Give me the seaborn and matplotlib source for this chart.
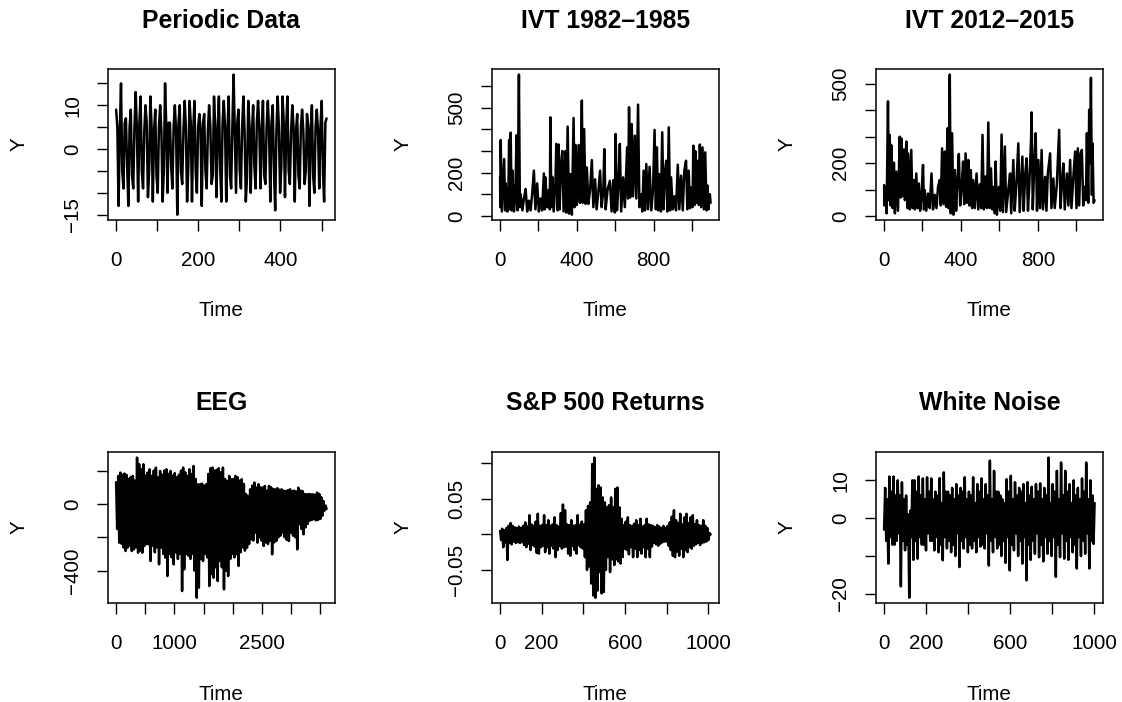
import numpy as np
import matplotlib
matplotlib.use("Agg")
import matplotlib.pyplot as plt
import seaborn as sns

# ---------------- data ----------------
periodic_n = 512
periodic_y = [
    9, 5, -13, 4, 15, -5, -9, 6, 7, -4, -13, 5, 9, -6, -9, 5, 13, 4, -12, 6,
    12, -5, -9, 4, 10, 6, -11, -5, 12, 5, -12, 4, 9, -6, -10, 5, 10, 4, -12, -5,
    15, 5, -10, 6, 6, -4, -9, 5, 10, 4, -15, 6, 10, -5, -8, 4, 11, 5, -12, -4,
    11, 6, -12, 4, 11, -5, -10, 5, 8, 4, -13, 6, 8, -5, -9, 4, 10, 5, -8, -6,
    12, 5, -11, 4, 12, -4, -12, 6, 11, 5, -12, 4, 12, -6, -9, 5, 17, 4, -10, 6,
    9, -5, -9, 5, 12, 4, -12, -6, 11, 5, -10, 4, 10, -4, -9, 6, 11, 5, -9, 4,
    11, -6, -8, 5, 11, 4, -12, 6, 10, -5, -14, 4, 12, 5, -10, -4, 12, 6, -11, 5,
    12, -5, -8, 4, 10, 5, -12, 4, 8, -6, -9, 5, 9, 4, -8, -5, 8, 5, -13, 4,
    10, -6, -10, 5, 9, 4, -9, 5, 11, -5, -12, 6, 7,
]

ivt82_t = [
    0, 1, 3, 9, 14, 21, 26, 29, 38, 43, 47, 52, 55, 60, 64, 72, 79, 86, 91, 98,
    103, 107, 116, 124, 133, 141, 150, 159, 167, 176, 184, 193, 202, 210, 219, 228, 233, 236, 245, 253,
    259, 262, 267, 272, 279, 288, 293, 300, 305, 310, 317, 324, 331, 340, 345, 352, 359, 366, 374, 383,
    388, 393, 400, 409, 416, 421, 426, 431, 438, 445, 452, 460, 469, 478, 486, 495, 503, 512, 521, 529,
    538, 543, 550, 560, 572, 581, 590, 598, 602, 609, 617, 624, 631, 641, 650, 662, 667, 672, 678, 686,
    693, 702, 710, 719, 726, 736, 741, 748, 755, 762, 771, 779, 788, 797, 805, 812, 817, 824, 831, 838,
    845, 852, 859, 866, 872, 879, 886, 891, 900, 909, 917, 926, 934, 943, 952, 960, 969, 976, 983, 990,
    995, 1003, 1007, 1014, 1017, 1024, 1029, 1036, 1041, 1048, 1055, 1062, 1069, 1076, 1081, 1086, 1093, 1097,
]
ivt82_y = [
    178, 40, 351, 20, 120, 263, 25, 150, 20, 100, 351, 30, 385, 25, 209, 20, 90, 373, 25, 654,
    40, 100, 25, 80, 124, 20, 70, 25, 100, 209, 30, 150, 20, 80, 25, 196, 30, 178, 40, 120,
    30, 456, 40, 180, 20, 150, 333, 25, 330, 30, 230, 300, 20, 300, 15, 413, 10, 193, 5, 453,
    40, 328, 50, 328, 60, 250, 534, 60, 402, 55, 224, 55, 120, 258, 40, 169, 30, 110, 209, 40,
    120, 309, 30, 120, 162, 20, 165, 15, 379, 25, 150, 333, 20, 178, 40, 317, 80, 503, 85, 425,
    90, 371, 80, 515, 40, 100, 20, 209, 25, 240, 30, 227, 25, 120, 398, 30, 317, 25, 193, 20,
    387, 30, 200, 255, 20, 410, 25, 178, 30, 90, 25, 237, 30, 186, 25, 209, 255, 30, 209, 35,
    130, 40, 325, 50, 300, 60, 255, 50, 330, 40, 317, 30, 294, 25, 140, 30, 100, 60,
]

ivt12_t = [
    1, 3, 9, 14, 21, 26, 30, 35, 38, 45, 52, 57, 64, 73, 82, 87, 90, 97, 104, 109,
    116, 122, 125, 134, 142, 148, 156, 161, 168, 175, 181, 188, 194, 203, 208, 212, 220, 229, 238, 247,
    255, 264, 273, 281, 290, 295, 302, 309, 316, 323, 330, 335, 342, 347, 354, 361, 368, 375, 382, 389,
    396, 403, 411, 417, 424, 431, 438, 444, 451, 458, 464, 472, 481, 490, 498, 505, 512, 519, 528, 535,
    542, 549, 556, 563, 569, 576, 580, 587, 597, 604, 611, 618, 628, 635, 646, 655, 661, 672, 679, 688,
    698, 705, 719, 726, 733, 741, 748, 755, 764, 767, 773, 781, 788, 795, 802, 811, 819, 826, 837, 844,
    851, 863, 870, 880, 887, 898, 910, 917, 924, 932, 939, 950, 958, 967, 974, 984, 993, 1000, 1007, 1014,
    1021, 1028, 1035, 1042, 1049, 1054, 1061, 1066, 1071, 1075, 1080, 1083, 1089, 1094,
]
ivt12_y = [
    117, 40, 110, 10, 434, 60, 307, 40, 269, 30, 202, 10, 168, 20, 300, 70, 294, 75, 252, 60,
    282, 30, 237, 25, 250, 30, 136, 25, 161, 30, 123, 20, 60, 193, 25, 98, 20, 85, 30, 161,
    25, 80, 30, 110, 136, 40, 256, 45, 244, 35, 332, 30, 535, 10, 313, 5, 174, 20, 136, 235,
    40, 100, 206, 45, 237, 50, 212, 40, 174, 30, 136, 30, 161, 25, 120, 30, 307, 25, 150, 30,
    354, 30, 180, 25, 110, 10, 206, 5, 110, 20, 308, 15, 263, 15, 100, 161, 10, 212, 20, 120,
    275, 15, 225, 20, 150, 218, 20, 120, 288, 392, 25, 200, 313, 20, 212, 30, 250, 25, 148, 20,
    160, 237, 30, 142, 30, 120, 326, 30, 120, 199, 25, 161, 40, 212, 30, 150, 244, 30, 256, 40,
    237, 250, 40, 110, 60, 313, 50, 402, 200, 523, 80, 275, 50, 60,
]

eeg_n = 3605
eeg_hi = [
    130, 168, 188, 175, 182, 174, 150, 162, 168, 140,
    278, 238, 208, 238, 170, 188, 208, 168, 200, 218,
    160, 198, 175, 200, 208, 180, 198, 170, 185, 160,
    175, 200, 218, 190, 168, 208, 180, 228, 150, 118,
    118, 122, 110, 118, 180, 214, 218, 200, 205, 214,
    190, 218, 150, 138, 168, 148, 150, 168, 160, 140,
    148, 120, 60, 48, 88, 110, 128, 98, 118, 100,
    98, 108, 80, 108, 100, 90, 88, 95, 85, 88,
    80, 78, 82, 88, 78, 80, 75, 98, 80, 78,
    60, 58, 60, 58, 58, 56, 68, 60, 40, 18, -10,
]
eeg_lo = [
    -150, -232, -238, -260, -282, -262, -250, -282, -272, -260,
    -292, -280, -292, -252, -240, -242, -342, -250, -290, -260,
    -362, -262, -300, -322, -432, -300, -320, -362, -290, -330,
    -300, -522, -392, -300, -310, -330, -300, -400, -562, -502,
    -330, -342, -300, -320, -492, -420, -442, -380, -462, -342,
    -380, -512, -400, -432, -330, -300, -320, -300, -372, -290,
    -260, -280, -262, -240, -212, -220, -172, -232, -200, -220,
    -252, -230, -240, -220, -302, -230, -222, -200, -190, -172,
    -200, -215, -222, -172, -190, -200, -272, -122, -150, -182,
    -140, -120, -100, -95, -92, -98, -95, -90, -70, -40, -30,
]

sp_n = 1011
sp_hi = [
    0.005, 0.008, 0.006, 0.009, 0.012, 0.016, 0.012, 0.010, 0.009, 0.011,
    0.009, 0.012, 0.017, 0.011, 0.027, 0.014, 0.012, 0.018, 0.029, 0.012,
    0.013, 0.027, 0.013, 0.020, 0.012, 0.014, 0.024, 0.013, 0.011, 0.030,
    0.042, 0.034, 0.014, 0.013, 0.020, 0.012, 0.013, 0.027, 0.013, 0.018,
    0.014, 0.034, 0.040, 0.045, 0.099, 0.108, 0.064, 0.069, 0.066, 0.052,
    0.045, 0.038, 0.041, 0.052, 0.038, 0.064, 0.066, 0.038, 0.022, 0.013,
    0.018, 0.024, 0.013, 0.012, 0.015, 0.020, 0.013, 0.022, 0.011, 0.013,
    0.022, 0.014, 0.013, 0.012, 0.010, 0.013, 0.011, 0.009, 0.012, 0.009,
    0.012, 0.017, 0.025, 0.034, 0.020, 0.016, 0.029, 0.014, 0.024, 0.029,
    0.016, 0.024, 0.027, 0.014, 0.020, 0.013, 0.012, 0.020, 0.012, 0.009, 0.002,
]
sp_lo = [
    -0.008, -0.018, -0.011, -0.036, -0.012, -0.014, -0.010, -0.012, -0.011, -0.012,
    -0.011, -0.015, -0.018, -0.013, -0.022, -0.015, -0.017, -0.026, -0.027, -0.018,
    -0.016, -0.025, -0.018, -0.027, -0.016, -0.020, -0.032, -0.022, -0.016, -0.020,
    -0.018, -0.017, -0.027, -0.030, -0.016, -0.022, -0.027, -0.015, -0.018, -0.020,
    -0.032, -0.050, -0.045, -0.069, -0.086, -0.089, -0.079, -0.053, -0.083, -0.081,
    -0.050, -0.032, -0.053, -0.035, -0.043, -0.035, -0.038, -0.041, -0.032, -0.020,
    -0.022, -0.028, -0.018, -0.032, -0.020, -0.032, -0.022, -0.027, -0.018, -0.032,
    -0.020, -0.032, -0.017, -0.012, -0.014, -0.016, -0.013, -0.011, -0.010, -0.010,
    -0.016, -0.022, -0.030, -0.032, -0.024, -0.030, -0.020, -0.032, -0.022, -0.025,
    -0.018, -0.020, -0.016, -0.014, -0.012, -0.015, -0.012, -0.011, -0.010, -0.008, 0.000,
]

noise_n = 1002
noise_y = [
    -3,
    8, -6, 5, -12, 11, -5, 7, -7, 11, -7, 6, -6, 10, -4, 6, -18, 9.5, -6, 5, -8.5,
    6, -7, 1, -21, 2, -5, 10, -11, 10, -6, 7, -10.7, 11, -5, 6, -7, 10.5, -7, 5, -8.5,
    10.8, -4, 7, -6, 10.5, -6, 5, -8.5, 7, -5, 6, -9, 10.6, -7, 4, -11.1, 12.1, -5, 7, -8,
    7, -6, 6, -9, 8, -7, 5, -10, 9, -4, 6, -12.9, 8, -6, 7, -8, 10.8, -5, 5, -9,
    7, -7, 6, -8, 10.8, -6, 4, -9, 9, -5, 7, -7.5, 10.5, -7, 5, -8, 9, -4, 6, -12.5,
    15.2, -6, 5, -9, 12.5, -5, 7, -8, 7, -7, 6, -10, 5, -6, 4, -11.8, 10.3, -5, 7, -13.8,
    11.2, -7, 5, -8.5, 9.5, -4, 6, -10, 8, -6, 7, -12, 9, -5, 4, -16.4, 9.5, -7, 6, -11,
    8.3, -6, 5, -9.4, 9, -4, 7, -10.3, 9.2, -7, 5, -11.4, 8, -5, 6, -9.4, 16, -6, 4, -10,
    9, -5, 7, -15.5, 12.5, -7, 5, -10.3, 14.7, -4, 6, -10.7, 12.5, -6, 7, -11, 9, -5, 4, -9,
    10, -7, 6, -13.3, 8, -5, 5, -10, 10.5, -6, 7, -9.4, 14.7, -4, 5, -13.3, 10, -6, 6, -6.8,
    4,
]

M = "\u2212"
titles = ["Periodic Data", "IVT 1982\u20131985", "IVT 2012\u20132015",
          "EEG", "S&P 500 Returns", "White Noise"]

# ---------------- style ----------------
sns.set_theme(style="ticks")
plt.rcParams["font.family"] = ["Liberation Sans", "DejaVu Sans"]

W, H, DPI = 1122, 702, 100
fig = plt.figure(figsize=(W / DPI, H / DPI), dpi=DPI)

col_left = [107.7, 491.7, 875.7]
row_top = [69.0, 452.0]
box_w, box_h = 227.3, 151.3
PX = 72.0 / DPI  # points per pixel


def interleave(a, b):
    return np.column_stack([a, b]).ravel()


def add_panel(r, c, t, y, title, yticks, ylabels, xticks, xlabels):
    left = col_left[c] / W
    bottom = 1 - (row_top[r] + box_h) / H
    ax = fig.add_axes([left, bottom, box_w / W, box_h / H])
    t = np.asarray(t, float)
    y = np.asarray(y, float)
    sns.lineplot(x=t, y=y, ax=ax, color="black", linewidth=1.8,
                 estimator=None, sort=False)
    xr = t.max() - t.min()
    yr = y.max() - y.min()
    ax.set_xlim(t.min() - 0.04 * xr, t.max() + 0.04 * xr)
    ax.set_ylim(y.min() - 0.04 * yr, y.max() + 0.04 * yr)
    ax.set_xticks(xticks)
    ax.set_xticklabels(xlabels)
    ax.set_yticks(yticks)
    ax.set_yticklabels(ylabels, rotation=90, va="center")
    ax.tick_params(axis="both", direction="out", length=8.2, width=1.0,
                   color="black", labelcolor="black", labelsize=14.8)
    ax.tick_params(axis="x", pad=14)
    ax.tick_params(axis="y", pad=10)
    for s in ax.spines.values():
        s.set_visible(True)
        s.set_color("black")
        s.set_linewidth(1.1)
    ax.set_xlabel("")
    ax.set_ylabel("")
    ax.annotate(title, xy=(0.5, 1), xycoords="axes fraction",
                xytext=(0, 41.5 * PX), textcoords="offset points",
                ha="center", va="baseline", fontsize=17.8, fontweight="bold",
                color="black")
    ax.annotate("Y", xy=(0, 0.5), xycoords="axes fraction",
                xytext=(-89 * PX, 0), textcoords="offset points",
                ha="center", va="center", rotation=90, fontsize=14.8,
                color="black")
    ax.annotate("Time", xy=(0.5, 0), xycoords="axes fraction",
                xytext=(0, -90.7 * PX), textcoords="offset points",
                ha="center", va="center", fontsize=14.8, color="black")
    return ax


# Periodic
add_panel(0, 0, np.linspace(1, periodic_n, len(periodic_y)), periodic_y,
          titles[0], [-15, -10, -5, 0, 5, 10, 15],
          [M + "15", "", "", "0", "", "10", ""],
          [0, 100, 200, 300, 400, 500], ["0", "", "200", "", "400", ""])

# IVT 1982-1985
add_panel(0, 1, ivt82_t, ivt82_y, titles[1],
          [0, 100, 200, 300, 400, 500, 600],
          ["0", "", "200", "", "", "500", ""],
          [0, 200, 400, 600, 800, 1000], ["0", "", "400", "", "800", ""])

# IVT 2012-2015
add_panel(0, 2, ivt12_t, ivt12_y, titles[2],
          [0, 100, 200, 300, 400, 500],
          ["0", "", "200", "", "", "500"],
          [0, 200, 400, 600, 800, 1000], ["0", "", "400", "", "800", ""])

# EEG
eeg_y = interleave(eeg_hi, eeg_lo)
add_panel(1, 0, np.linspace(1, eeg_n, len(eeg_y)), eeg_y, titles[3],
          [-400, -200, 0, 200], [M + "400", "", "0", ""],
          [0, 500, 1000, 1500, 2000, 2500, 3000, 3500],
          ["0", "", "1000", "", "", "2500", "", ""])

# S&P 500
sp_y = interleave(sp_hi, sp_lo)
add_panel(1, 1, np.linspace(1, sp_n, len(sp_y)), sp_y, titles[4],
          [-0.05, 0.0, 0.05, 0.10], [M + "0.05", "", "0.05", ""],
          [0, 200, 400, 600, 800, 1000], ["0", "200", "", "600", "", "1000"])

# White noise
add_panel(1, 2, np.linspace(1, noise_n, len(noise_y)), noise_y, titles[5],
          [-20, -10, 0, 10], [M + "20", "", "0", "10"],
          [0, 200, 400, 600, 800, 1000], ["0", "200", "", "600", "", "1000"])

fig.savefig("out.png", dpi=DPI)
